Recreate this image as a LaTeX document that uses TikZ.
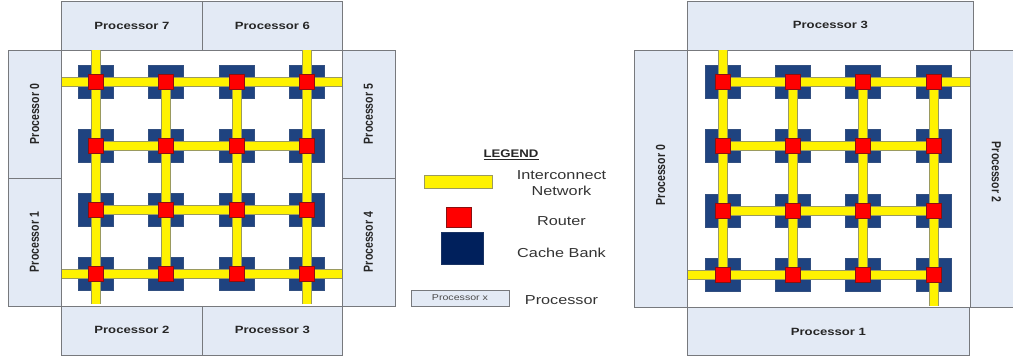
\documentclass[tikz,border=0pt]{standalone}
\usepackage{fontspec}
\usepackage{graphicx}
\setmainfont{Liberation Sans}
\definecolor{procfill}{HTML}{E3EAF5}
\definecolor{procline}{HTML}{77797D}
\definecolor{bankblue}{HTML}{1F4380}
\definecolor{banknavy}{HTML}{00205C}
\definecolor{linkedge}{HTML}{9A9A60}
\definecolor{routeredge}{HTML}{8A1010}
\newcommand{\wideT}[1]{\scalebox{1.25}[1]{#1}}
\newcommand{\tallT}[1]{\scalebox{1}[1.25]{#1}}
\tikzset{
  x=1pt,y=-1pt,
  proc/.style={draw=procline,fill=procfill,line width=.9pt,inner sep=0pt,anchor=north west,font=\fontsize{10.5}{12}\selectfont\bfseries,text=black!85},
  bank/.style={draw=bankblue!80!gray,fill=bankblue,minimum width=35pt,minimum height=33pt,inner sep=0pt,line width=.3pt},
  rtr/.style={draw=routeredge,fill=red,minimum width=15pt,minimum height=15pt,inner sep=0pt,line width=.7pt},
  lnk/.style={draw=linkedge,line width=.6pt,double=yellow,double distance=8pt},
  legtext/.style={font=\fontsize{13}{15}\selectfont,text=black!80,inner sep=0pt},
}
\newcommand{\procbox}[6]{% name, x0, y0, x1, y1, label
  \pgfmathsetmacro{\boxw}{#4-#2}\pgfmathsetmacro{\boxh}{#5-#3}
  \node[proc,minimum width=\boxw pt,minimum height=\boxh pt] (#1) at (#2,#3) {\wideT{#6}};}
\newcommand{\procrot}[6]{%
  \pgfmathsetmacro{\boxw}{#4-#2}\pgfmathsetmacro{\boxh}{#5-#3}
  \node[proc,anchor=center,minimum width=\boxw pt,minimum height=\boxh pt] (#1) at ({(#2+#4)/2},{(#3+#5)/2}) {\rotatebox{90}{\tallT{#6}}};}
\begin{document}
\begin{tikzpicture}
\useasboundingbox (0,0) rectangle (1013,361);
% left chip processors
\procbox{lp7}{61}{1}{202}{50}{Processor 7}
\procbox{lp6}{202}{1}{342}{50}{Processor 6}
\procrot{lp0}{8}{50}{61}{178}{Processor 0}
\procrot{lp1}{8}{178}{61}{306}{Processor 1}
\procrot{lp5}{342}{50}{395}{178}{Processor 5}
\procrot{lp4}{342}{178}{395}{306}{Processor 4}
\procbox{lp2}{61}{306}{202}{355}{\raisebox{1.5pt}{Processor 2}}
\procbox{lp3}{202}{306}{342}{355}{\raisebox{1.5pt}{Processor 3}}
% right chip processors
\procbox{rp3}{687}{1}{973}{50}{\raisebox{1.5pt}{Processor 3}}
\procbox{rp1}{687}{307}{969}{355}{Processor 1}
\procrot{rp0}{634}{50}{687}{307}{\hspace*{7pt}Processor 0}
\begin{scope}
\clip (960,40) rectangle (1013,320);
\node[proc,anchor=center,minimum width=53pt,minimum height=257pt] (rp2) at (996.5,178.5) {\rotatebox{-90}{\tallT{Processor 2\hspace*{13pt}}}};
\end{scope}
% banks and coordinates
\foreach \c/\x in {1/96,2/166,3/237,4/307}
  \foreach \r/\y in {1/82,2/146,3/210,4/274}{
    \node[bank] (lb\r\c) at (\x,\y) {};
    \coordinate (lc\r\c) at (\x,\y);
  }
\foreach \c/\x in {1/723,2/793,3/863,4/934}
  \foreach \r/\y in {1/82,2/146,3/211,4/275}{
    \node[bank] (rb\r\c) at (\x,\y) {};
    \coordinate (rc\r\c) at (\x,\y);
  }
% free ends, left
\coordinate (lt1) at (96,50.5);  \coordinate (lt4) at (307,50.5);
\coordinate (ld1) at (96,304);   \coordinate (ld4) at (307,304);
\coordinate (lw1) at (61.5,82);  \coordinate (le1) at (341.5,82);
\coordinate (lw4) at (61.5,274); \coordinate (le4) at (341.5,274);
% free ends, right
\coordinate (rt1) at (723,50.5); \coordinate (rd4) at (934,306);
\coordinate (re1) at (969.5,82); \coordinate (rw4) at (687.5,275);
% links
\foreach \p in {l,r}{
  \foreach \a/\b in {1/2,2/3,3/4}{
    \foreach \i in {1,2,3,4}{
      \draw[lnk] (\p c\i\a) -- (\p c\i\b);
      \draw[lnk] (\p c\a\i) -- (\p c\b\i);
    }
  }
}
\draw[lnk] (lt1) -- (lc11);
\draw[lnk] (lt4) -- (lc14);
\draw[lnk] (lc41) -- (ld1);
\draw[lnk] (lc44) -- (ld4);
\draw[lnk] (lw1) -- (lc11);
\draw[lnk] (lc14) -- (le1);
\draw[lnk] (lw4) -- (lc41);
\draw[lnk] (lc44) -- (le4);
\draw[lnk] (rt1) -- (rc11);
\draw[lnk] (rc44) -- (rd4);
\draw[lnk] (rc14) -- (re1);
\draw[lnk] (rw4) -- (rc41);
% routers
\foreach \c in {1,2,3,4}
  \foreach \r in {1,2,3,4}{
    \node[rtr] (lr\r\c) at (lc\r\c) {};
    \node[rtr] (rr\r\c) at (rc\r\c) {};
  }
% legend
\node[font=\fontsize{11}{13}\selectfont\bfseries,inner sep=0pt,text=black!85] (legtitle) at (511,155) {\scalebox{1.2}[1]{\underline{LEGEND}}};
\node[draw=linkedge,fill=yellow,line width=.8pt,minimum width=68pt,minimum height=13pt,inner sep=0pt] (legnet) at (458,181.5) {};
\node[draw=routeredge,fill=red,line width=.7pt,minimum width=25pt,minimum height=20pt,inner sep=0pt] (legrtr) at (458.5,217) {};
\node[draw=banknavy!80!gray,fill=banknavy,line width=.4pt,minimum width=42pt,minimum height=32pt,inner sep=0pt] (legbank) at (462,248) {};
\node[draw=procline,fill=procfill,line width=.8pt,minimum width=98pt,minimum height=16pt,inner sep=0pt,font=\fontsize{8.5}{10}\selectfont,text=black!70] (legproc) at (460,298) {\wideT{Processor x}};
\node[legtext] (t1) at (561.5,175) {\wideT{Interconnect}};
\node[legtext] (t1b) at (561.5,190.5) {\wideT{Network}};
\node[legtext] (t2) at (561.5,221.5) {\wideT{Router}};
\node[legtext] (t3) at (561.5,253) {\wideT{Cache Bank}};
\node[legtext] (t4) at (561.5,300) {\wideT{Processor}};
\end{tikzpicture}
\end{document}
